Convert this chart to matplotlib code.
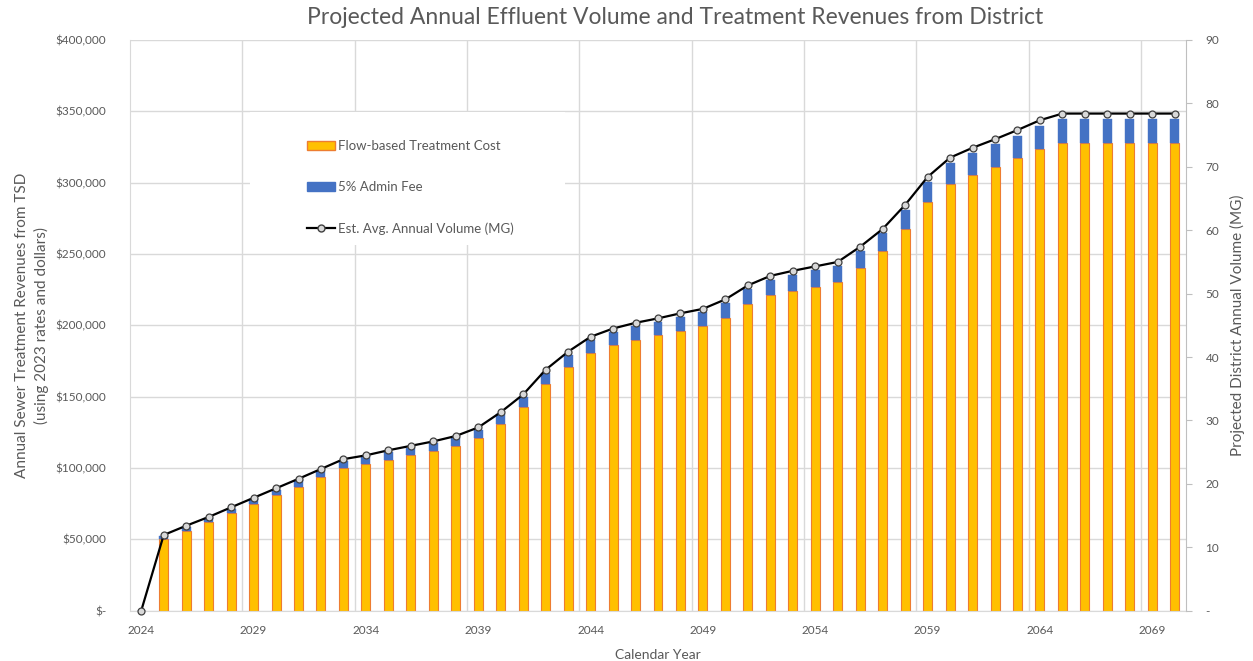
import matplotlib
matplotlib.use("Agg")
import matplotlib.pyplot as plt
from matplotlib.patches import Patch, Rectangle
from matplotlib.lines import Line2D
from matplotlib.ticker import FuncFormatter
import numpy as np

plt.rcParams['font.family'] = ['Lato', 'DejaVu Sans']

years = list(range(2024, 2071))

volume_mg = [0, 11.94, 13.4, 14.78, 16.3, 17.8, 19.3, 20.8, 22.35, 23.9,
             24.5, 25.3, 26.0, 26.7, 27.55, 28.9, 31.3, 34.1, 38.0, 40.85,
             43.2, 44.5, 45.4, 46.1, 46.9, 47.6, 49.1, 51.3, 52.8, 53.6,
             54.3, 55.0, 57.4, 60.2, 64.0, 68.4, 71.45, 73.0, 74.35, 75.8,
             77.35, 78.4, 78.4, 78.4, 78.4, 78.4, 78.4]

flow_cost = [0, 50000, 56100, 61900, 68200, 74500, 80800, 87000, 93500, 100000,
             102500, 105900, 108800, 111700, 115300, 120900, 131000, 142700, 159000, 171000,
             180800, 186200, 190000, 192900, 196300, 199200, 205500, 214700, 221000, 224300,
             227200, 230200, 240200, 251900, 267800, 286300, 299000, 305500, 311200, 317200,
             323700, 328100, 328100, 328100, 328100, 328100, 328100]

admin_fee = [0, 2500, 2805, 3095, 3410, 3725, 4040, 4350, 4675, 5000,
             5125, 5295, 5440, 5585, 5765, 6045, 6550, 7135, 7950, 8550,
             9040, 9310, 9500, 9645, 9815, 9960, 10275, 10735, 11050, 11215,
             11360, 11510, 12010, 12595, 13390, 14315, 14950, 15275, 15560, 15860,
             16185, 16405, 16405, 16405, 16405, 16405, 16405]

label_years = list(range(2024, 2070, 5))

ORANGE = '#FFC000'
ORANGE_EDGE = '#ED7D31'
BLUE = '#4472C4'
GRID = '#D9D9D9'
TXT = '#595959'

W, H = 1253, 661
fig = plt.figure(figsize=(W / 100, H / 100), dpi=100)
L, R, T, B = 130, 1186, 40, 610.7
ax = fig.add_axes([L / W, 1 - B / H, (R - L) / W, (B - T) / H])

ax.bar(years, flow_cost, width=0.4, color=ORANGE, edgecolor=ORANGE_EDGE,
       linewidth=0.8, zorder=2)
ax.bar(years, admin_fee, bottom=flow_cost, width=0.4, color=BLUE,
       edgecolor=BLUE, linewidth=0.3, zorder=2)

ax.set_xlim(2023.5, 2070.5)
ax.set_ylim(0, 400000)
ax.set_yticks(np.arange(0, 400001, 50000))
ax.yaxis.set_major_formatter(FuncFormatter(lambda v, p: '$-' if v == 0 else f'${v:,.0f}'))
ax.set_xticks(label_years)
ax.set_xticklabels([str(y) for y in label_years])
ax.set_xticks(np.arange(2028.5, 2070, 5), minor=True)
ax.tick_params(axis='x', which='both', length=0, pad=10, labelsize=8.5, labelcolor=TXT)
ax.tick_params(axis='y', length=0, pad=17, labelsize=8.5, labelcolor=TXT)
ax.grid(axis='y', color=GRID, linewidth=1.0, zorder=0)
ax.grid(axis='x', which='minor', color=GRID, linewidth=1.0, zorder=0)
ax.set_axisbelow(True)
for s in ['top', 'right']:
    ax.spines[s].set_visible(False)
ax.spines['left'].set_color(GRID)
ax.spines['bottom'].set_color(GRID)

ax.set_ylabel('Annual Sewer Treatment Revenues from TSD\n(using 2023 rates and dollars)',
              fontsize=11, color=TXT, labelpad=5, linespacing=1.35)
ax.set_xlabel('Calendar Year', fontsize=10, color=TXT, labelpad=10)

ax2 = ax.twinx()
ax2.plot(years, volume_mg, color='black', linewidth=1.6, marker='o', markersize=5,
         markerfacecolor='#D9D9D9', markeredgecolor='#404040', markeredgewidth=0.9,
         zorder=3, clip_on=False)
ax2.set_ylim(0, 90)
ax2.set_yticks(np.arange(0, 91, 10))
ax2.yaxis.set_major_formatter(FuncFormatter(lambda v, p: '-' if v == 0 else f'{v:.0f}'))
ax2.tick_params(axis='y', length=4, width=0.8, color='#BFBFBF', pad=10,
                labelsize=8.5, labelcolor=TXT)
for s in ['top', 'left', 'bottom']:
    ax2.spines[s].set_visible(False)
ax2.spines['right'].set_color('#BFBFBF')
ax2.set_ylabel('Projected District Annual Volume (MG)', fontsize=11, color=TXT, labelpad=8)

# white legend backdrop
ax2.add_patch(Rectangle(((250 - L) / (R - L), (B - 245) / (B - T)),
                        315 / (R - L), 133 / (B - T), transform=ax2.transAxes,
                        facecolor='white', edgecolor='none', zorder=1))

handles = [Patch(facecolor=ORANGE, edgecolor=ORANGE_EDGE, linewidth=1.0),
           Patch(facecolor=BLUE, edgecolor=BLUE),
           Line2D([0], [0], color='black', linewidth=1.6, marker='o', markersize=5,
                  markerfacecolor='#D9D9D9', markeredgecolor='#404040')]
labels = ['Flow-based Treatment Cost', '5% Admin Fee', 'Est. Avg. Annual Volume (MG)']
leg = ax2.legend(handles, labels, loc='upper left',
                 bbox_to_anchor=(307 / W, 1 - 140 / H), bbox_transform=fig.transFigure,
                 frameon=False, fontsize=9.5, labelspacing=2.2, handlelength=2.1,
                 handleheight=0.6, handletextpad=0.25, borderpad=0, borderaxespad=0)
for t in leg.get_texts():
    t.set_color(TXT)

fig.suptitle('Projected Annual Effluent Volume and Treatment Revenues from District',
             x=675 / W, y=1 - 18 / H, va='center', fontsize=16.5, color=TXT)

fig.savefig('out.png', dpi=100)
